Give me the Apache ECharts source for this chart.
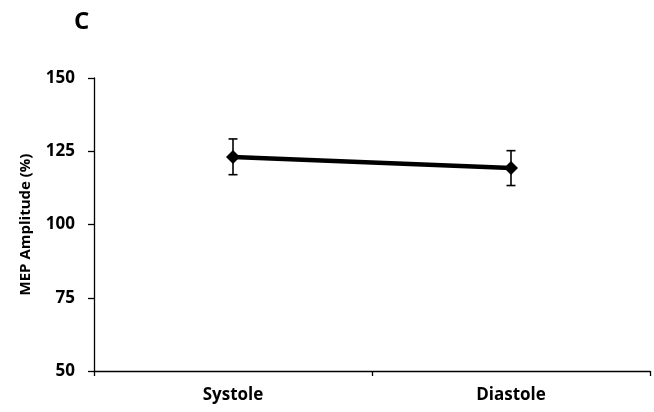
<!DOCTYPE html>
<html><head><meta charset="utf-8">
<script src="https://cdn.jsdelivr.net/npm/echarts@6/dist/echarts.min.js"></script>
<style>html,body{margin:0;padding:0;background:#fff}#c{width:654px;height:412px}</style>
</head><body><div id="c"></div>
<script>
const categories = ['Systole', 'Diastole'];
const meanValues = [123, 119.3];
const errLow = [117, 113.3];
const errHigh = [129.2, 125.2];
const yTicks = [50, 75, 100, 125, 150];

const FONT = '"Open Sans", "Liberation Sans", sans-serif';
const chart = echarts.init(document.getElementById('c'));
chart.setOption({
  animation: false,
  backgroundColor: '#fff',
  title: { text: 'C', left: 69, top: 5, textStyle: { fontFamily: FONT, fontSize: 24, fontWeight: 'bold', color: '#000' } },
  grid: { left: 94, right: 4, top: 78, bottom: 41 },
  xAxis: {
    type: 'category', data: categories, boundaryGap: true,
    axisLine: { lineStyle: { color: '#000', width: 1.3 } },
    axisTick: { show: true, length: 5, lineStyle: { color: '#000', width: 1.3 } },
    axisLabel: { color: '#000', fontFamily: FONT, fontWeight: 'bold', fontSize: 17, margin: 16 }
  },
  yAxis: {
    type: 'value', min: yTicks[0], max: yTicks[yTicks.length - 1], interval: 25,
    name: 'MEP Amplitude (%)', nameLocation: 'middle', nameGap: 61, nameRotate: 90,
    nameTextStyle: { color: '#000', fontFamily: FONT, fontWeight: 'bold', fontSize: 15 },
    axisLine: { show: true, lineStyle: { color: '#000', width: 1.3 } },
    axisTick: { show: true, length: 6, lineStyle: { color: '#000', width: 1.3 } },
    axisLabel: { color: '#000', fontFamily: FONT, fontWeight: 'bold', fontSize: 17, margin: 19 },
    splitLine: { show: false }
  },
  series: [
    {
      type: 'line', data: meanValues, symbol: 'diamond', symbolSize: 14,
      lineStyle: { color: '#000', width: 4.5 }, itemStyle: { color: '#000' }, z: 3
    },
    {
      type: 'custom', z: 4,
      data: categories.map((c, i) => [i, errLow[i], errHigh[i]]),
      renderItem: function (params, api) {
        const x = api.value(0);
        const lo = api.coord([x, api.value(1)]);
        const hi = api.coord([x, api.value(2)]);
        const hw = 4.5;
        const st = { stroke: '#000', lineWidth: 1.6 };
        return { type: 'group', children: [
          { type: 'line', shape: { x1: lo[0], y1: lo[1], x2: hi[0], y2: hi[1] }, style: st },
          { type: 'line', shape: { x1: lo[0] - hw, y1: lo[1], x2: lo[0] + hw, y2: lo[1] }, style: st },
          { type: 'line', shape: { x1: hi[0] - hw, y1: hi[1], x2: hi[0] + hw, y2: hi[1] }, style: st }
        ] };
      }
    }
  ]
});
</script></body></html>
